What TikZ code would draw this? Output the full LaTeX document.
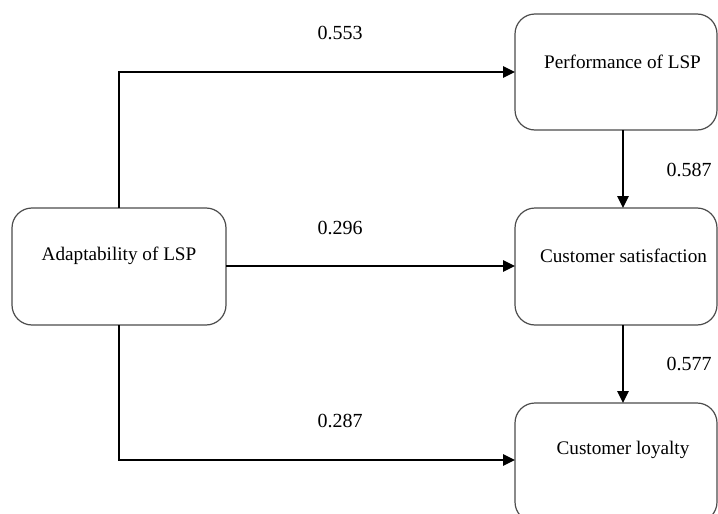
\documentclass[tikz,border=0pt]{standalone}
\usepackage{fontspec}
\setmainfont{Liberation Serif}
\usetikzlibrary{arrows.meta}
\begin{document}
\begin{tikzpicture}[x=1pt,y=-1pt,
  box/.style={draw=black!70,line width=1.2pt,rounded corners=20pt,fill=white},
  conn/.style={line width=1.5pt,-{Triangle[length=12pt,width=11.5pt]}},
  lbl/.style={font=\fontsize{20}{22}\selectfont},
  txt/.style={font=\fontsize{19.2}{22}\selectfont}]
\useasboundingbox (0,0) rectangle (718,514);
\begin{scope}
\clip (0,0) rectangle (718,514);
\draw[box] (12,208) rectangle (226,325);
\draw[box] (515,14) rectangle (717,130);
\draw[box] (515,208) rectangle (717,325);
\draw[box] (515,403) rectangle (717,522);
\end{scope}
\node[txt] (adapt) at (119,256) {Adaptability of LSP};
\node[txt] (perf) at (622.5,62) {Performance of LSP};
\node[txt] (sat) at (623.5,256) {Customer satisfaction};
\node[txt] (loy) at (623,450) {Customer loyalty};
\coordinate (aT) at (119,208);
\coordinate (aB) at (119,325);
\coordinate (aR) at (226,266);
\coordinate (pL) at (515,72);
\coordinate (sL) at (515,266);
\coordinate (lL) at (515,460);
\coordinate (pB) at (623,130);
\coordinate (sT) at (623,208);
\coordinate (sB) at (623,325);
\coordinate (lT) at (623,403);
\draw[conn] (aT) |- (pL);
\draw[conn] (aR) -- (sL);
\draw[conn] (aB) |- (lL);
\draw[conn] (pB) -- (sT);
\draw[conn] (sB) -- (lT);
\node[lbl] (l1) at (340,33) {0.553};
\node[lbl] (l2) at (340,228) {0.296};
\node[lbl] (l3) at (340,421) {0.287};
\node[lbl] (l4) at (689,170) {0.587};
\node[lbl] (l5) at (689,364) {0.577};
\end{tikzpicture}
\end{document}
